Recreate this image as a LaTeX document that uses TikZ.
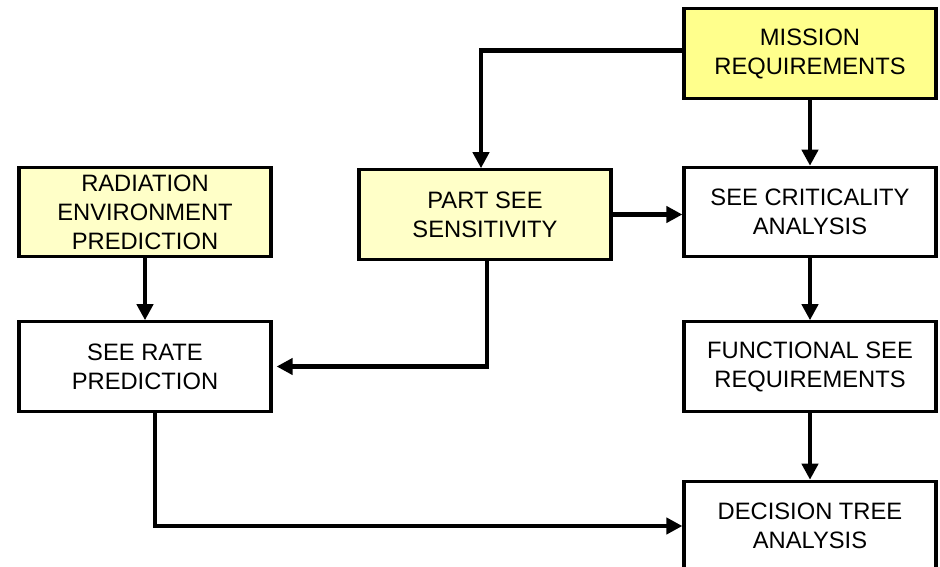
\documentclass[tikz,border=0pt]{standalone}
\usepackage{fontspec}
\setmainfont{Liberation Sans}
\usetikzlibrary{positioning}
\usetikzlibrary{arrows.meta}

\definecolor{inyellow}{RGB}{255,255,140}
\definecolor{paleyellow}{RGB}{255,255,200}

\tikzset{
  procbox/.style={draw, line width=2.4pt, fill=white, minimum width=189pt, minimum height=67pt,
    align=center, inner sep=2pt, font=\fontsize{17.8}{21.8}\selectfont},
  inbox/.style={procbox, fill=paleyellow},
  flow/.style={-{Triangle[length=12pt,width=12pt]}, line width=3.6pt, color=black},
}

\begin{document}
\begin{tikzpicture}[x=0.75pt,y=-0.75pt]
\useasboundingbox (0,0) rectangle (940,567);

% inputs
\node(mission)[inbox, fill=inyellow] at (810,53.5) {MISSION\\REQUIREMENTS};
\node(part)[inbox] at (485,214.5) {PART SEE\\SENSITIVITY};
\node(rad)[inbox] at (145,212) {RADIATION\\ENVIRONMENT\\PREDICTION};

% right column
\node(crit)[procbox] at (810,212) {SEE CRITICALITY\\ANALYSIS};
\node(func)[procbox] at (810,366.5) {FUNCTIONAL SEE\\REQUIREMENTS};
\node(dec)[procbox] at (810,526) {DECISION TREE\\ANALYSIS};

% left column
\node(rate)[procbox] at (145,366.5) {SEE RATE\\PREDICTION};

\draw[flow] ([yshift=2.5pt]mission.west) -| ([xshift=-3pt]part.north);
\draw[flow] (mission.south) -- (crit.north);
\draw[flow] (part.east) -- (part.east -| crit.west);
\draw[flow] ([xshift=1.5pt]part.south) |- ([xshift=3pt]rate.east);
\draw[flow] (rad.south) -- (rate.north);
\draw[flow] (crit.south) -- (func.north);
\draw[flow] (func.south) -- (dec.north);
\draw[flow] ([xshift=7.5pt]rate.south) |- (dec.west);
\end{tikzpicture}
\end{document}
